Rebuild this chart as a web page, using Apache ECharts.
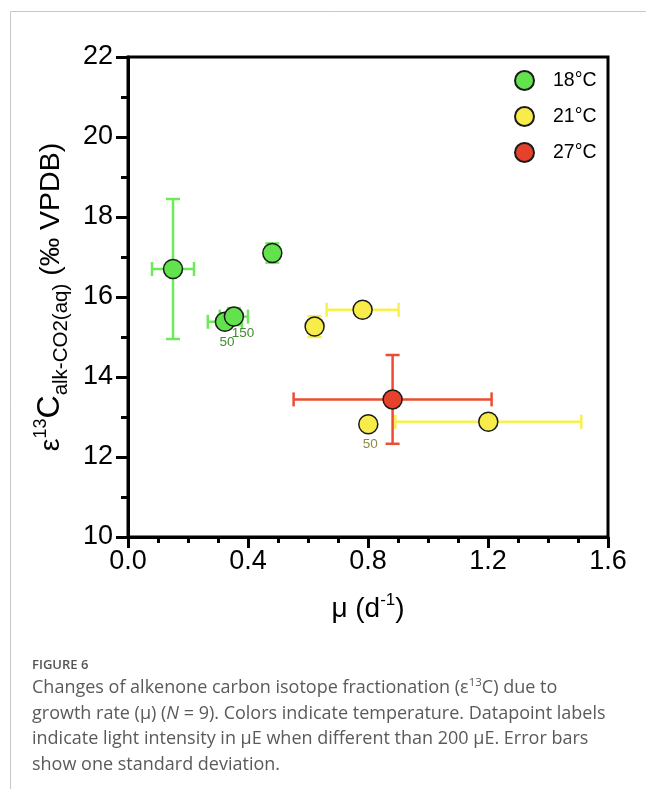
<!DOCTYPE html>
<html><head><meta charset="utf-8">
<script src="https://cdn.jsdelivr.net/npm/echarts@6/dist/echarts.min.js"></script>
<style>html,body{margin:0;padding:0;background:#fff}#c{width:646px;height:789px}</style>
</head><body><div id="c"></div>
<script>
// ---- data ----
const temps = ['18°C', '21°C', '27°C'];
const mu18 = [0.150, 0.323, 0.353, 0.481];
const eps18 = [16.70, 15.38, 15.51, 17.10];
const muErr18 = [0.070, 0.057, 0.047, 0.023];
const epsErr18 = [1.75, 0.10, 0.21, 0.24];
const light18 = ['', '50', '150', ''];

const mu21 = [0.782, 0.622, 0.801, 1.201];
const eps21 = [15.68, 15.26, 12.82, 12.88];
const muErr21 = [0.120, 0.023, 0.010, 0.310];
const epsErr21 = [0.05, 0.26, 0.05, 0.05];
const light21 = ['', '', '50', ''];

const mu27 = [0.882];
const eps27 = [13.44];
const muErr27 = [0.330];
const epsErr27 = [1.11];
const light27 = [''];

const xTicks = [0.0, 0.4, 0.8, 1.2, 1.6];
const yTicks = [10, 12, 14, 16, 18, 20, 22];

// ---- styles ----
const fill = ['#62e24c', '#f7ec4a', '#e5412b'];
const errCol = ['#6de95a', '#f8f04f', '#ee4b33'];
const lblCol = ['#3f8c2f', '#8e8a40', '#333'];
const FONT = '"Liberation Sans", Arial, sans-serif';

const groups = [
  {mu: mu18, eps: eps18, me: muErr18, ee: epsErr18, lab: light18},
  {mu: mu21, eps: eps21, me: muErr21, ee: epsErr21, lab: light21},
  {mu: mu27, eps: eps27, me: muErr27, ee: epsErr27, lab: light27}
];

function errRenderer(color) {
  return function (params, api) {
    const x = api.value(0), y = api.value(1), ex = api.value(2), ey = api.value(3);
    const l = api.coord([x - ex, y]), r = api.coord([x + ex, y]);
    const t = api.coord([x, y + ey]), b = api.coord([x, y - ey]);
    const cap = 7;
    const st = {stroke: color, lineWidth: 2.5};
    const ln = (x1, y1, x2, y2) => ({type: 'line', shape: {x1, y1, x2, y2}, style: st});
    return {type: 'group', children: [
      ln(l[0], l[1], r[0], r[1]),
      ln(l[0], l[1] - cap, l[0], l[1] + cap),
      ln(r[0], r[1] - cap, r[0], r[1] + cap),
      ln(t[0], t[1], b[0], b[1]),
      ln(t[0] - cap, t[1], t[0] + cap, t[1]),
      ln(b[0] - cap, b[1], b[0] + cap, b[1])
    ]};
  };
}

const series = [];
groups.forEach((g, i) => {
  series.push({
    type: 'custom', name: temps[i] + ' err', z: 2, silent: true,
    renderItem: errRenderer(errCol[i]),
    data: g.mu.map((m, k) => [m, g.eps[k], g.me[k], g.ee[k]])
  });
});
groups.forEach((g, i) => {
  series.push({
    type: 'scatter', name: temps[i], z: 5,
    symbol: 'circle', symbolSize: 19,
    itemStyle: {color: fill[i], borderColor: '#1a1a1a', borderWidth: 1.5, opacity: 1},
    data: g.mu.map((m, k) => ({
      value: [m, g.eps[k]],
      label: {
        show: g.lab[k] !== '', formatter: g.lab[k],
        position: 'bottom', distance: 1,
        offset: g.lab[k] === '150' ? [9, -2] : [2, 2],
        color: lblCol[i], fontSize: 13.5, fontFamily: FONT
      }
    }))
  });
});

const chart = echarts.init(document.getElementById('c'), null, {renderer: 'canvas'});
chart.setOption({
  backgroundColor: '#fff',
  animation: false,
  grid: {left: 128, top: 57, width: 480, height: 480, show: true, borderColor: '#000', borderWidth: 3, backgroundColor: 'transparent'},
  legend: {
    data: temps, orient: 'vertical', left: 509, top: 65, padding: 5,
    itemWidth: 19, itemHeight: 19, itemGap: 15,
    textStyle: {fontSize: 19.5, fontFamily: FONT, color: '#000', padding: [0, 0, 0, 14]},
    selectedMode: false
  },
  xAxis: {
    type: 'value', min: xTicks[0], max: xTicks[xTicks.length - 1], interval: 0.4,
    axisLine: {show: true, onZero: false, lineStyle: {color: '#000', width: 3}},
    axisTick: {show: true, length: 11, lineStyle: {width: 3, color: '#000'}},
    minorTick: {show: true, splitNumber: 4, length: 6, lineStyle: {width: 3, color: '#000'}},
    splitLine: {show: false},
    axisLabel: {fontSize: 27, fontFamily: FONT, color: '#000', margin: 11, formatter: v => v.toFixed(1)},
    name: '{a|μ (d}{s|-1}{a|)}', nameLocation: 'middle', nameGap: 55,
    nameTextStyle: {rich: {
      a: {fontSize: 28, fontFamily: FONT, color: '#000', lineHeight: 34},
      s: {fontSize: 17, fontFamily: FONT, color: '#000', verticalAlign: 'top', lineHeight: 34, padding: [0, 0, 6, 0]}
    }}
  },
  yAxis: {
    type: 'value', min: yTicks[0], max: yTicks[yTicks.length - 1], interval: 2,
    axisLine: {show: true, onZero: false, lineStyle: {color: '#000', width: 3}},
    axisTick: {show: true, length: 12, lineStyle: {width: 3, color: '#000'}},
    minorTick: {show: true, splitNumber: 2, length: 7, lineStyle: {width: 3, color: '#000'}},
    splitLine: {show: false},
    axisLabel: {fontSize: 27, fontFamily: FONT, color: '#000', margin: 15},
    name: '{e|ε}{p|13}{c|C}{b|alk-CO2(aq)}{r| (‰ VPDB)}',
    nameLocation: 'middle', nameRotate: 90, nameGap: 55,
    nameTextStyle: {rich: {
      e: {fontSize: 28.5, fontFamily: FONT, color: '#000', lineHeight: 36, verticalAlign: 'bottom'},
      p: {fontSize: 18, fontFamily: FONT, color: '#000', lineHeight: 36, verticalAlign: 'top', padding: [2, 0, 0, 0]},
      c: {fontSize: 32, fontFamily: FONT, color: '#000', lineHeight: 36, verticalAlign: 'bottom'},
      b: {fontSize: 20.5, fontFamily: FONT, color: '#000', lineHeight: 36, verticalAlign: 'bottom', padding: [0, 0, -6, 0]},
      r: {fontSize: 28.5, fontFamily: FONT, color: '#000', lineHeight: 36, verticalAlign: 'bottom'}
    }}
  },
  series: series,
  graphic: [
    {type: 'line', shape: {x1: 10.5, y1: 11.5, x2: 646, y2: 11.5}, style: {stroke: '#c8c8c8', lineWidth: 1}, silent: true},
    {type: 'line', shape: {x1: 10.5, y1: 11.5, x2: 10.5, y2: 789}, style: {stroke: '#c8c8c8', lineWidth: 1}, silent: true},
    {type: 'text', left: 32, top: 659, style: {text: 'FIGURE 6', font: '600 13px "Open Sans", sans-serif', fill: '#555'}, silent: true},
    {type: 'text', left: 32, top: 675, style: {
      text: 'Changes of alkenone carbon isotope fractionation (ε{s|13}C) due to\ngrowth rate (μ) ({i|N} = 9). Colors indicate temperature. Datapoint labels\nindicate light intensity in μE when different than 200 μE. Error bars\nshow one standard deviation.',
      font: '18px "Open Sans", sans-serif', fill: '#5a5a5a', lineHeight: 25.7,
      rich: {
        s: {fontSize: 11.5, fontFamily: 'Open Sans', fill: '#5a5a5a', verticalAlign: 'top', lineHeight: 25.7, padding: [2, 0, 0, 0]},
        i: {fontSize: 18, fontFamily: 'Open Sans', fontStyle: 'italic', fill: '#5a5a5a', lineHeight: 25.7}
      }
    }, silent: true}
  ]
});
</script></body></html>
